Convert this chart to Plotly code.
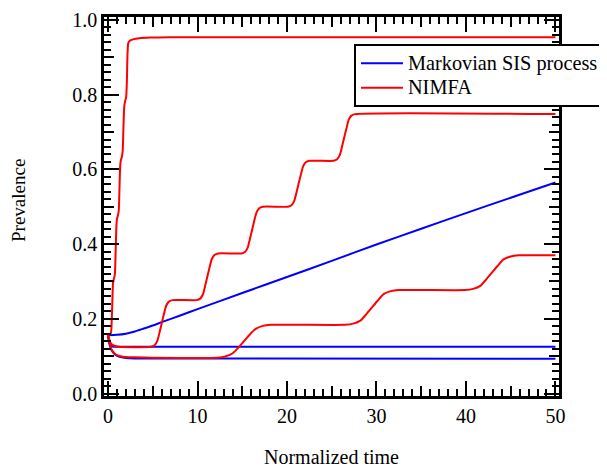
import plotly.graph_objects as go

# ---------------- data ----------------
# Markovian SIS process (blue)
blue1_t = [0, 1, 2, 3, 4, 5, 6, 8, 10, 15, 20, 25, 30, 35, 40, 45, 50]
blue1_v = [0.156, 0.157, 0.160, 0.166, 0.174, 0.182, 0.191, 0.208, 0.226, 0.269,
           0.312, 0.355, 0.399, 0.441, 0.483, 0.524, 0.565]

blue2_t = [0, 0.1, 0.25, 0.5, 1, 50]
blue2_v = [0.156, 0.140, 0.130, 0.126, 0.125, 0.125]

blue3_t = [0, 0.1, 0.25, 0.5, 0.8, 1.2, 2, 3, 50]
blue3_v = [0.156, 0.140, 0.124, 0.112, 0.104, 0.099, 0.095, 0.094, 0.093]

# NIMFA (red)
redA_t = [0, 0.3, 0.42, 0.5, 0.56, 0.66, 0.76, 0.84, 0.92, 1.0, 1.1, 1.2, 1.28, 1.36,
          1.44, 1.54, 1.64, 1.72, 1.82, 1.92, 2.02, 2.1, 2.18, 2.26, 2.4, 2.8, 3.5,
          4.7, 7, 50]
redA_v = [0.156, 0.16, 0.2, 0.26, 0.297, 0.308, 0.318, 0.37, 0.44, 0.468, 0.476, 0.49,
          0.55, 0.61, 0.625, 0.633, 0.65, 0.71, 0.77, 0.784, 0.792, 0.83, 0.91, 0.938,
          0.944, 0.948, 0.951, 0.953, 0.954, 0.954]

redB_t = [0, 0.15, 0.3, 0.5, 0.8, 1.2,
          4.8, 5.2, 5.5, 5.75, 6.0, 6.25, 6.5, 6.8, 7.2,
          9.9, 10.3, 10.6, 10.85, 11.1, 11.35, 11.6, 11.9, 12.3,
          14.9, 15.3, 15.6, 15.85, 16.1, 16.35, 16.6, 16.9, 17.3,
          20.1, 20.5, 20.8, 21.05, 21.3, 21.55, 21.8, 22.1, 22.5,
          25.2, 25.6, 25.9, 26.15, 26.4, 26.65, 26.9, 27.2, 27.6, 50]
redB_v = [0.156, 0.143, 0.135, 0.130, 0.127, 0.125,
          0.125, 0.129, 0.140, 0.163, 0.188, 0.213, 0.235, 0.246, 0.250,
          0.250, 0.254, 0.265, 0.288, 0.313, 0.338, 0.360, 0.371, 0.375,
          0.375, 0.379, 0.390, 0.413, 0.438, 0.463, 0.485, 0.496, 0.500,
          0.500, 0.504, 0.515, 0.537, 0.562, 0.586, 0.608, 0.619, 0.623,
          0.623, 0.627, 0.638, 0.661, 0.686, 0.710, 0.733, 0.744, 0.748, 0.748]

redC_t = [0, 0.12, 0.25, 0.4, 0.7, 1.0, 1.4, 2.0, 3.0, 5.0,
          12.2, 13.1, 13.9, 14.55, 15.2, 15.85, 16.5, 17.3, 18.2,
          26.5, 27.4, 28.2, 28.85, 29.5, 30.15, 30.8, 31.6, 32.5,
          39.9, 40.8, 41.6, 42.25, 42.9, 43.55, 44.2, 45.0, 45.9, 50]
redC_v = [0.156, 0.145, 0.128, 0.117, 0.108, 0.103, 0.100, 0.098, 0.097, 0.096,
          0.096, 0.099, 0.107, 0.122, 0.140, 0.158, 0.173, 0.181, 0.184,
          0.184, 0.187, 0.195, 0.212, 0.2305, 0.249, 0.266, 0.274, 0.277,
          0.277, 0.280, 0.288, 0.305, 0.3235, 0.342, 0.359, 0.367, 0.370, 0.370]

x_major = [0, 10, 20, 30, 40, 50]
x_labels = ["0", "10", "20", "30", "40", "50"]
x_mid = [5, 15, 25, 35, 45]
y_major = [0.0, 0.2, 0.4, 0.6, 0.8, 1.0]
y_labels = ["0.0", "0.2", "0.4", "0.6", "0.8", "1.0"]
y_mid = [0.1, 0.3, 0.5, 0.7, 0.9]

legend_names = ["Markovian SIS process", "NIMFA"]

x_range = [-0.45, 50.4]
y_range = [-0.0067, 1.008]

FONT = "Liberation Serif, Times New Roman, serif"
BLUE = "#0000ff"
RED = "#ff0000"


def big(txt):
    # larger glyphs while keeping the compact legend row height
    return "<span style='font-size:20.3px'>" + txt + "</span>"


fig = go.Figure()

blues = [(blue1_t, blue1_v), (blue2_t, blue2_v), (blue3_t, blue3_v)]
for i, (t, v) in enumerate(blues):
    fig.add_trace(go.Scatter(x=t, y=v, mode="lines",
                             line=dict(color=BLUE, width=2, shape="spline", smoothing=0.6),
                             name=big(legend_names[0]), legendgroup="m",
                             showlegend=(i == 0), hoverinfo="skip"))
reds = [(redA_t, redA_v), (redB_t, redB_v), (redC_t, redC_v)]
for i, (t, v) in enumerate(reds):
    fig.add_trace(go.Scatter(x=t, y=v, mode="lines",
                             line=dict(color=RED, width=2, shape="spline", smoothing=0.6),
                             name=big(legend_names[1]), legendgroup="n",
                             showlegend=(i == 0), hoverinfo="skip"))

# invisible trace on overlay axes to carry medium-length ticks
fig.add_trace(go.Scatter(x=[None], y=[None], xaxis="x2", yaxis="y2",
                         showlegend=False, hoverinfo="skip"))

axis_common = dict(showgrid=False, zeroline=False, showline=True, linecolor="black",
                   linewidth=2.5, mirror="allticks", ticks="inside", tickcolor="black",
                   tickwidth=2, automargin=False)

fig.update_layout(
    # the page body adds an 8px offset; a 599x460 figure fills the 607x468 window exactly
    width=599, height=460,
    margin=dict(l=96, r=48, t=9, b=72, autoexpand=False),
    paper_bgcolor="white", plot_bgcolor="white",
    font=dict(family=FONT, size=20, color="black"),
    xaxis=dict(range=x_range, tickvals=x_major, ticktext=x_labels, ticklen=15,
               minor=dict(dtick=1, tick0=0, ticklen=7, tickwidth=2, tickcolor="black",
                          ticks="inside"),
               tickfont=dict(family=FONT, size=20), **axis_common),
    yaxis=dict(range=y_range, tickvals=y_major, ticktext=y_labels, ticklen=15,
               minor=dict(dtick=0.02, tick0=0, ticklen=7, tickwidth=2, tickcolor="black",
                          ticks="inside"),
               tickfont=dict(family=FONT, size=20), **axis_common),
    xaxis2=dict(range=x_range, overlaying="x", side="bottom", tickvals=x_mid,
                ticklen=10, showticklabels=False, showgrid=False, zeroline=False,
                showline=False, mirror="allticks", ticks="inside", tickcolor="black",
                tickwidth=2, anchor="y2"),
    yaxis2=dict(range=y_range, overlaying="y", side="left", tickvals=y_mid,
                ticklen=10, showticklabels=False, showgrid=False, zeroline=False,
                showline=False, mirror="allticks", ticks="inside", tickcolor="black",
                tickwidth=2, anchor="x2"),
    legend=dict(x=0.5494, y=0.9288, xanchor="left", yanchor="top",
                bgcolor="white", bordercolor="black", borderwidth=2,
                font=dict(family=FONT, size=16.5), tracegroupgap=0, itemwidth=42),
    annotations=[
        dict(text="Prevalence", x=-0.189, y=0.5145, xref="paper", yref="paper",
             showarrow=False, textangle=-90, xanchor="center", yanchor="middle",
             font=dict(family=FONT, size=19)),
        dict(text="Normalized time", x=0.501, y=-0.161, xref="paper", yref="paper",
             showarrow=False, xanchor="center", yanchor="middle",
             font=dict(family=FONT, size=20)),
    ],
)

fig.write_html("out.html")
